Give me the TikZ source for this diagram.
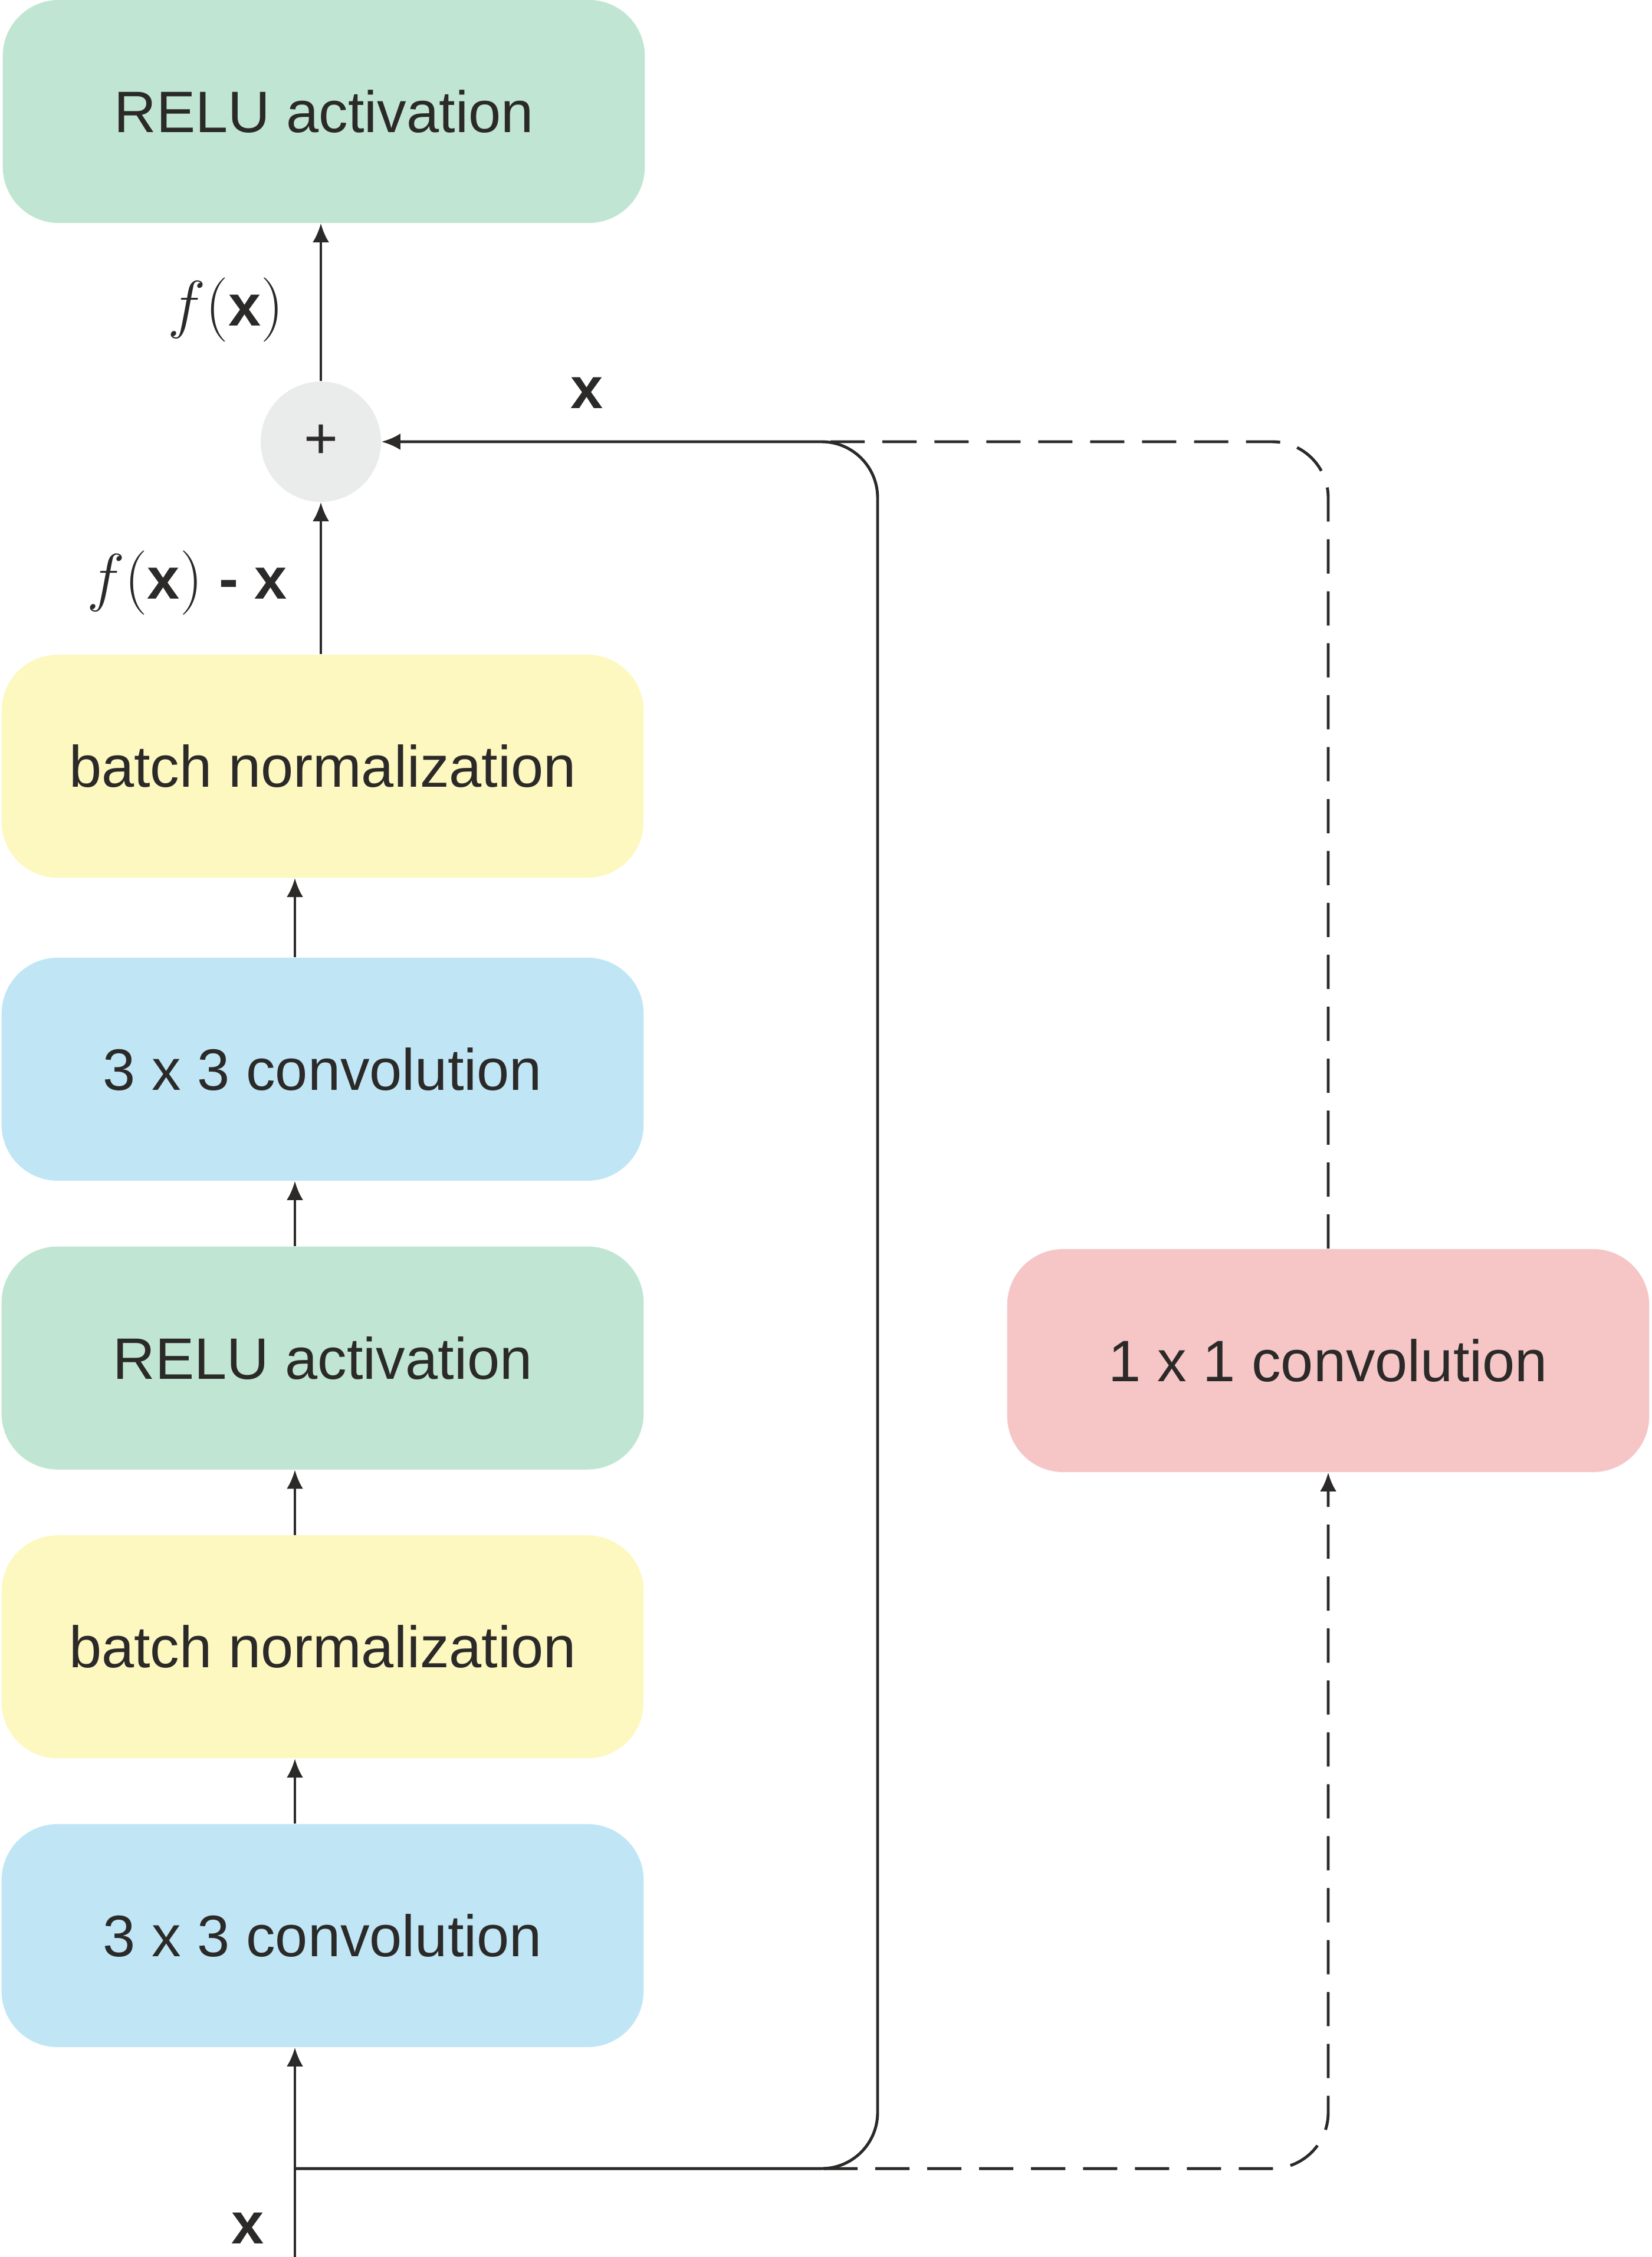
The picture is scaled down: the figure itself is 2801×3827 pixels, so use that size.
\documentclass[tikz,border=0pt]{standalone}
\usepackage{fix-cm}
\usepackage{fontspec}
\setmainfont{Liberation Sans}
\usetikzlibrary{arrows.meta,positioning}

\definecolor{ink}{HTML}{2B2A29}
\definecolor{relugreen}{HTML}{C0E6D3}
\definecolor{bnyellow}{HTML}{FDF8C0}
\definecolor{convblue}{HTML}{C0E6F6}
\definecolor{projpink}{HTML}{F6C6C7}
\definecolor{sumgray}{HTML}{EAEBEB}

% f(x) with tall math parentheses
\newcommand{\bigmath}[1]{{\fontsize{31}{36}\selectfont$#1$}}
\newcommand{\fofx}{\bigmath{f(}\textbf{x}\bigmath{)}}

\begin{document}
\begin{tikzpicture}[
        x=0.01cm, y=-0.01cm,
        node distance=1.1cm,
        every node/.style={text=ink, font=\fontsize{28.2}{34}\selectfont},
        layer/.style={rectangle, rounded corners=0.95cm, draw=none, inner sep=0pt, minimum width=10.88cm, minimum height=3.78cm, align=center},
        relu/.style={layer, fill=relugreen},
        bnorm/.style={layer, fill=bnyellow},
        conv/.style={layer, fill=convblue},
        proj/.style={layer, fill=projpink},
        sumnode/.style={circle, fill=sumgray, draw=none, inner sep=0pt, minimum size=2.04cm},
        lbl/.style={inner sep=0pt},
        arrow/.style={-{Latex[length=0.32cm, width=0.28cm]}, line width=1.2pt, draw=ink},
        skip/.style={line width=1.4pt, draw=ink, rounded corners=0.95cm},
        dashskip/.style={skip, dash pattern=on 0.58cm off 0.3cm}
    ]
        \useasboundingbox (0,0) rectangle (2801,3827);

        % main branch
        \node[conv] (conv1) at (547,3282) {3 x 3 convolution};
        \node[bnorm, above=1.1cm of conv1] (bn1) {batch normalization};
        \node[relu, above=1.1cm of bn1] (relu1) {RELU activation};
        \node[conv, above=1.1cm of relu1] (conv2) {3 x 3 convolution};
        \node[bnorm, above=1.34cm of conv2] (bn2) {batch normalization};
        \node[sumnode] (sum) at (544,749) {+};
        \node[relu] (relu2) at (549,189) {RELU activation};

        % projection shortcut
        \node[proj] (conv1x1) at (2252,2307) {1 x 1 convolution};

        \coordinate (in) at (500,3827);
        \coordinate (split) at (500,3677);
        \coordinate (skiptop) at (1488,749);
        \coordinate (dashbot) at (1396,3677);
        \coordinate (dashtop) at (1396,749);

        % labels
        \node[lbl] (xin) at (420,3778) {\textbf{x}};
        \node[lbl] (xskip) at (995,666) {\textbf{x}};
        \node[lbl] (fres) at (317,988) {\fofx{} \textbf{-} \textbf{x}};
        \node[lbl] (fout) at (383,525) {\fofx};

        \draw[arrow] (in) -- (conv1.south -| in);
        \draw[arrow] (conv1.north -| in) -- (bn1.south -| in);
        \draw[arrow] (bn1.north -| in) -- (relu1.south -| in);
        \draw[arrow] (relu1.north -| in) -- (conv2.south -| in);
        \draw[arrow] (conv2.north -| in) -- (bn2.south -| in);
        \draw[arrow] (bn2.north -| sum) -- (sum.south);
        \draw[arrow] (sum.north) -- (relu2.south -| sum);

        % identity shortcut
        \draw[skip, -{Latex[length=0.32cm, width=0.28cm]}] (split) -| (skiptop) -- (sum.east);

        % projection shortcut (dashed)
        \draw[dashskip, -{Latex[length=0.32cm, width=0.28cm]}] (dashbot) -| (conv1x1.south);
        \draw[dashskip] (conv1x1.north) |- (dashtop);
    \end{tikzpicture}
\end{document}
